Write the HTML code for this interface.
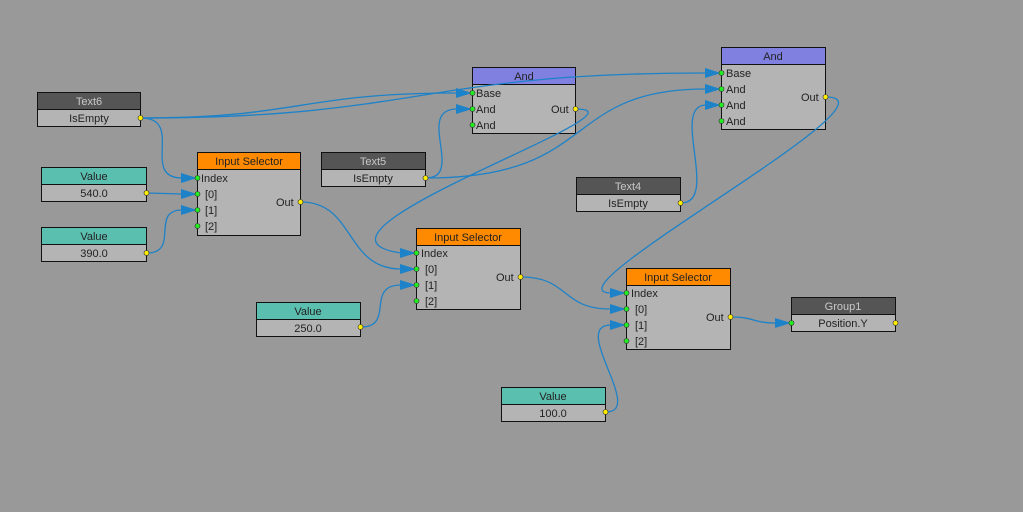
<!DOCTYPE html>
<html><head><meta charset="utf-8"><style>
html,body{margin:0;padding:0;background:#999;}
svg{display:block}
text{font-family:"Liberation Sans",sans-serif;font-size:11px;}
</style></head><body>
<svg width="1023" height="512" viewBox="0 0 1023 512" xmlns="http://www.w3.org/2000/svg">
<rect width="1023" height="512" fill="#999"/>
<g stroke="#111" stroke-width="1">
<rect x="37.5" y="92.5" width="103" height="17" fill="#555"/>
<rect x="37.5" y="109.5" width="103" height="17" fill="#b4b4b4"/>
<rect x="41.5" y="167.5" width="105" height="17" fill="#5bbfb0"/>
<rect x="41.5" y="184.5" width="105" height="17" fill="#b4b4b4"/>
<rect x="41.5" y="227.5" width="105" height="17" fill="#5bbfb0"/>
<rect x="41.5" y="244.5" width="105" height="17" fill="#b4b4b4"/>
<rect x="197.5" y="152.5" width="103" height="17" fill="#ff8a00"/>
<rect x="197.5" y="169.5" width="103" height="66" fill="#b4b4b4"/>
<rect x="321.5" y="152.5" width="104" height="17" fill="#555"/>
<rect x="321.5" y="169.5" width="104" height="17" fill="#b4b4b4"/>
<rect x="472.5" y="67.5" width="103" height="17" fill="#8080e0"/>
<rect x="472.5" y="84.5" width="103" height="49" fill="#b4b4b4"/>
<rect x="721.5" y="47.5" width="104" height="17" fill="#8080e0"/>
<rect x="721.5" y="64.5" width="104" height="65" fill="#b4b4b4"/>
<rect x="576.5" y="177.5" width="104" height="17" fill="#555"/>
<rect x="576.5" y="194.5" width="104" height="17" fill="#b4b4b4"/>
<rect x="416.5" y="228.5" width="104" height="17" fill="#ff8a00"/>
<rect x="416.5" y="245.5" width="104" height="64" fill="#b4b4b4"/>
<rect x="256.5" y="302.5" width="104" height="17" fill="#5bbfb0"/>
<rect x="256.5" y="319.5" width="104" height="17" fill="#b4b4b4"/>
<rect x="626.5" y="268.5" width="104" height="17" fill="#ff8a00"/>
<rect x="626.5" y="285.5" width="104" height="64" fill="#b4b4b4"/>
<rect x="791.5" y="297.5" width="104" height="17" fill="#555"/>
<rect x="791.5" y="314.5" width="104" height="17" fill="#b4b4b4"/>
<rect x="501.5" y="387.5" width="104" height="17" fill="#5bbfb0"/>
<rect x="501.5" y="404.5" width="104" height="17" fill="#b4b4b4"/>
</g>
<g fill="#222" text-anchor="middle">
<text x="89" y="105" fill="#c8c8c8">Text6</text><text x="89" y="122">IsEmpty</text>
<text x="94" y="180">Value</text><text x="94" y="197">540.0</text>
<text x="94" y="240">Value</text><text x="94" y="257">390.0</text>
<text x="249" y="165">Input Selector</text>
<text x="373" y="165" fill="#c8c8c8">Text5</text><text x="373" y="182">IsEmpty</text>
<text x="524" y="80">And</text>
<text x="773" y="60">And</text>
<text x="628" y="190" fill="#c8c8c8">Text4</text><text x="628" y="207">IsEmpty</text>
<text x="468" y="241">Input Selector</text>
<text x="308" y="315">Value</text><text x="308" y="332">250.0</text>
<text x="678" y="281">Input Selector</text>
<text x="843" y="310" fill="#c8c8c8">Group1</text><text x="843" y="327">Position.Y</text>
<text x="553" y="400">Value</text><text x="553" y="417">100.0</text>
</g>
<g fill="#222">
<text x="201" y="182">Index</text><text x="205" y="198">[0]</text><text x="205" y="214">[1]</text><text x="205" y="230">[2]</text>
<text x="276" y="206">Out</text>
<text x="476" y="97">Base</text><text x="476" y="113">And</text><text x="476" y="129">And</text>
<text x="551" y="113">Out</text>
<text x="726" y="77">Base</text><text x="726" y="93">And</text><text x="726" y="109">And</text><text x="726" y="125">And</text>
<text x="801" y="101">Out</text>
<text x="421" y="257">Index</text><text x="425" y="273">[0]</text><text x="425" y="289">[1]</text><text x="425" y="305">[2]</text>
<text x="496" y="281">Out</text>
<text x="631" y="297">Index</text><text x="635" y="313">[0]</text><text x="635" y="329">[1]</text><text x="635" y="345">[2]</text>
<text x="706" y="321">Out</text>
</g>
<g fill="none" stroke="#1e82c8" stroke-width="1.3">
<path d="M141 118 C185 118 140 178 182 178"/>
<path d="M141 118 C300 118 300 93 457 93"/>
<path d="M141 118 C420 118 420 73 706 73"/>
<path d="M147 193 L182 194"/>
<path d="M147 253 C180 253 150 210 182 210"/>
<path d="M301 202 C355 202 345 269 401 269"/>
<path d="M426 178 C465 178 415 109 457 109"/>
<path d="M426 178 C600 178 560 89 706 89"/>
<path d="M576 109 C660 109 275 235 401 253"/>
<path d="M681 203 C720 203 670 105 706 105"/>
<path d="M826 97 C910 97 540 293 611 293"/>
<path d="M361 327 C395 327 365 285 401 285"/>
<path d="M521 277 C570 277 560 309 611 309"/>
<path d="M606 412 C645 412 570 325 611 325"/>
<path d="M731 317 C755 317 752 323 776 323"/>
</g>
<g fill="#1e82c8">
<polygon points="181,173 197,178 181,183"/>
<polygon points="181,189 197,194 181,199"/>
<polygon points="181,205 197,210 181,215"/>
<polygon points="456,88 472,93 456,98"/>
<polygon points="456,104 472,109 456,114"/>
<polygon points="705,68 721,73 705,78"/>
<polygon points="705,84 721,89 705,94"/>
<polygon points="705,100 721,105 705,110"/>
<polygon points="400,248 416,253 400,258"/>
<polygon points="400,264 416,269 400,274"/>
<polygon points="400,280 416,285 400,290"/>
<polygon points="610,288 626,293 610,298"/>
<polygon points="610,304 626,309 610,314"/>
<polygon points="610,320 626,325 610,330"/>
<polygon points="775,318 791,323 775,328"/>
</g>
<g stroke="#333" stroke-width="0.6">
<g fill="#ffee00">
<circle cx="140.5" cy="118" r="2.5"/><circle cx="146.5" cy="193" r="2.5"/><circle cx="146.5" cy="253" r="2.5"/>
<circle cx="300.5" cy="202" r="2.5"/><circle cx="425.5" cy="178" r="2.5"/><circle cx="575.5" cy="109" r="2.5"/>
<circle cx="825.5" cy="97" r="2.5"/><circle cx="680.5" cy="203" r="2.5"/><circle cx="520.5" cy="277" r="2.5"/>
<circle cx="360.5" cy="327" r="2.5"/><circle cx="730.5" cy="317" r="2.5"/><circle cx="605.5" cy="412" r="2.5"/>
<circle cx="895.5" cy="323" r="2.5"/>
</g>
<g fill="#22ee22">
<circle cx="197.5" cy="178" r="2.5"/><circle cx="197.5" cy="194" r="2.5"/><circle cx="197.5" cy="210" r="2.5"/><circle cx="197.5" cy="226" r="2.5"/>
<circle cx="472.5" cy="93" r="2.5"/><circle cx="472.5" cy="109" r="2.5"/><circle cx="472.5" cy="125" r="2.5"/>
<circle cx="721.5" cy="73" r="2.5"/><circle cx="721.5" cy="89" r="2.5"/><circle cx="721.5" cy="105" r="2.5"/><circle cx="721.5" cy="121" r="2.5"/>
<circle cx="416.5" cy="253" r="2.5"/><circle cx="416.5" cy="269" r="2.5"/><circle cx="416.5" cy="285" r="2.5"/><circle cx="416.5" cy="301" r="2.5"/>
<circle cx="626.5" cy="293" r="2.5"/><circle cx="626.5" cy="309" r="2.5"/><circle cx="626.5" cy="325" r="2.5"/><circle cx="626.5" cy="341" r="2.5"/>
<circle cx="791.5" cy="323" r="2.5"/>
</g>
</g>
</svg>
</body></html>
